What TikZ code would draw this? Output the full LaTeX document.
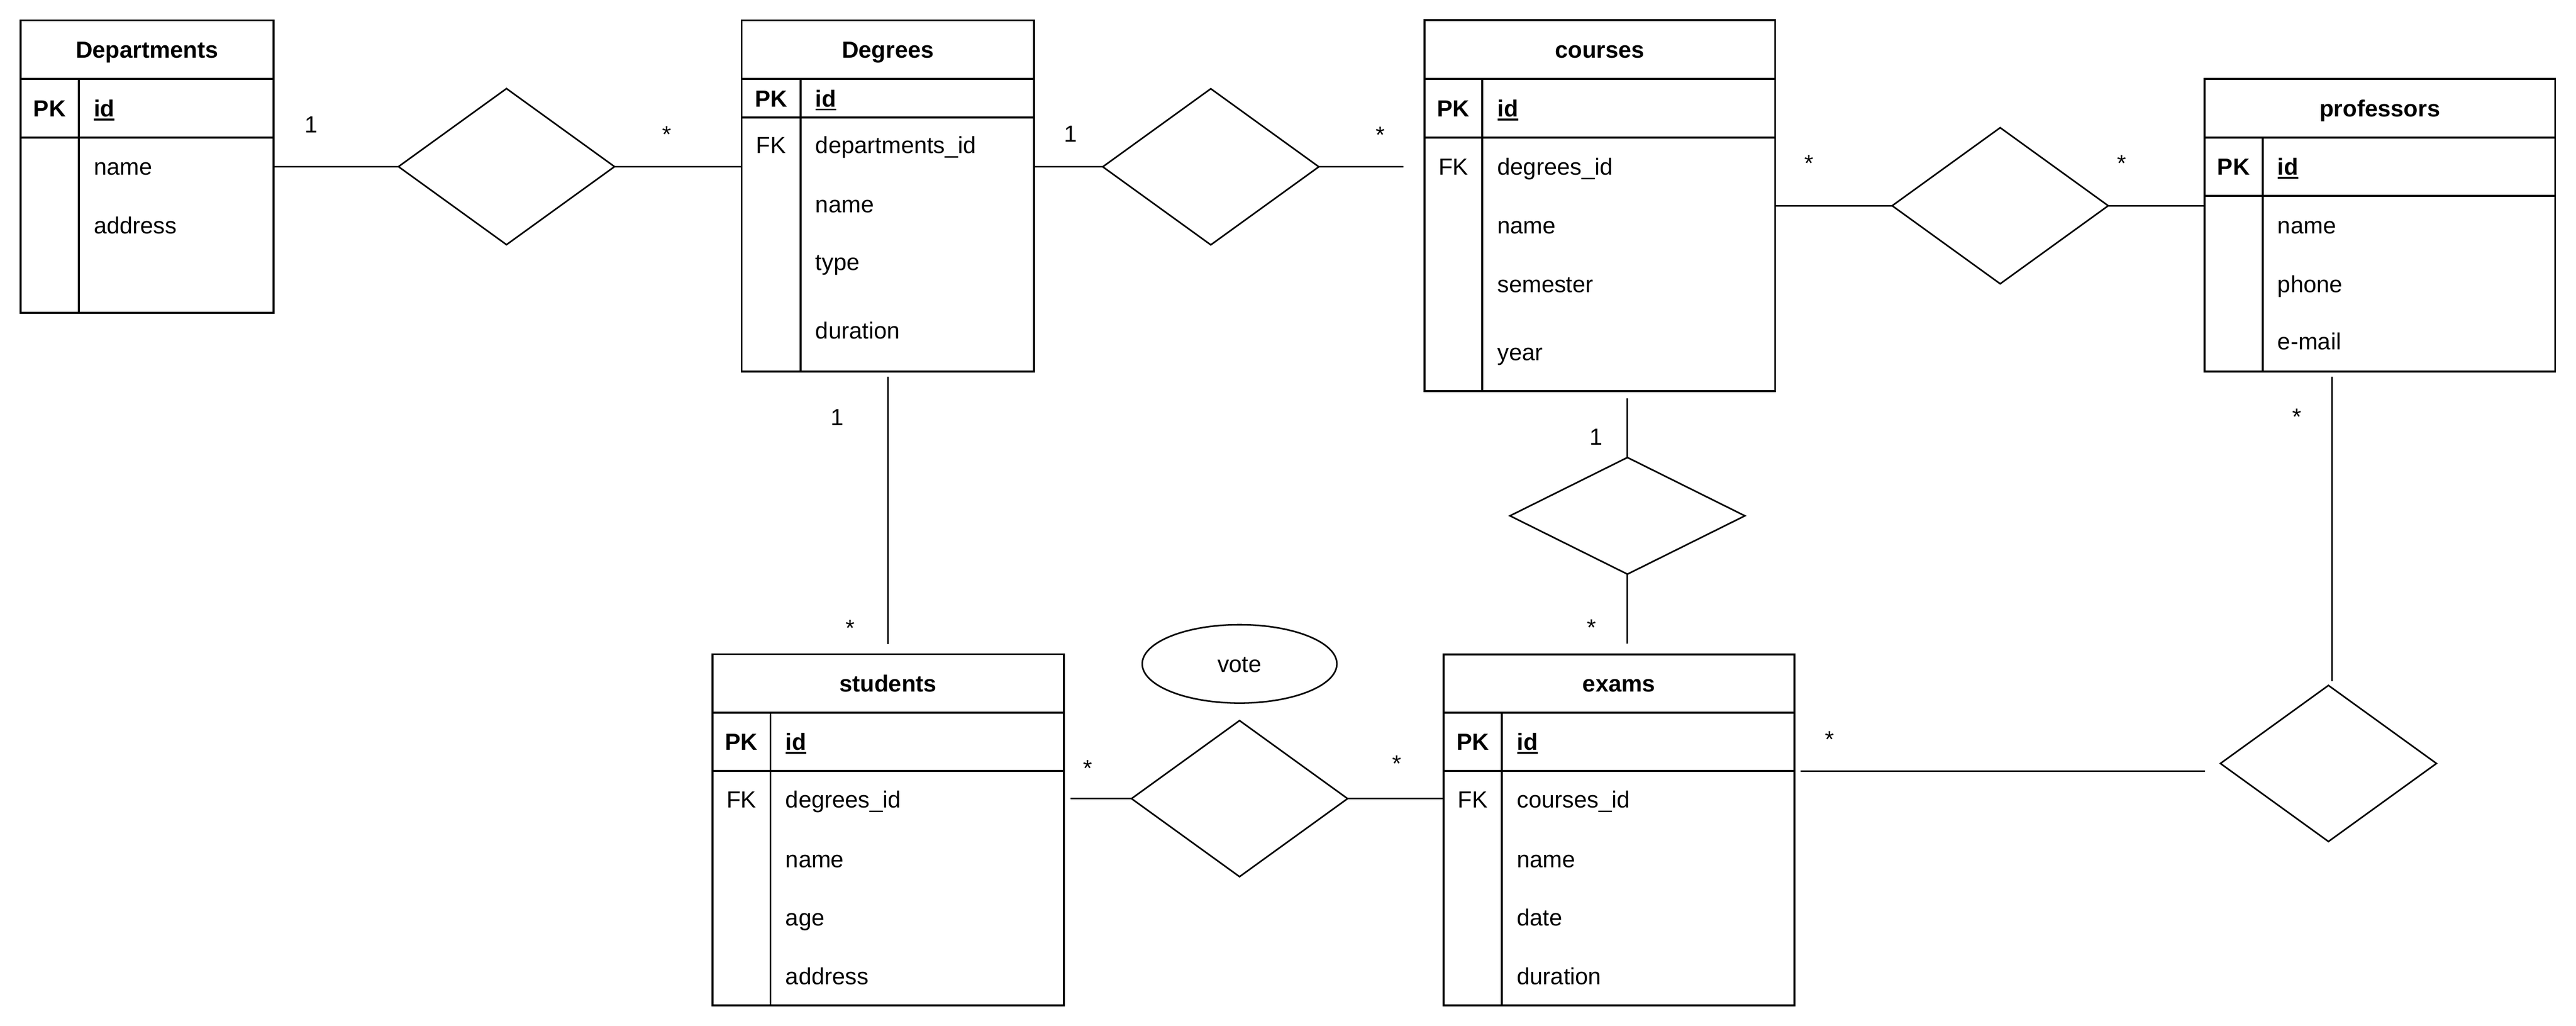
\documentclass[tikz,border=0pt]{standalone}
\usepackage{fontspec}
\setmainfont{Liberation Sans}
\usetikzlibrary{shapes.geometric}
\newcommand\ulword[1]{\setbox0\hbox{#1}\rlap{\rule[-2.3pt]{\wd0}{1.2pt}}\box0}
\begin{document}
\begin{tikzpicture}[x=1pt,y=-1pt,
  tbl/.style={draw, line width=1.2pt, inner sep=0pt, outer sep=0pt},
  sepline/.style={line width=1.2pt},
  txt/.style={inner sep=0pt, outer sep=0pt, text height=10.17pt, text depth=0pt, font=\fontsize{14.2}{17}\selectfont},
  hd/.style={txt, font=\fontsize{14.2}{17}\selectfont\bfseries},
  attr/.style={txt, anchor=west},
  rel/.style={draw, diamond, line width=0.95pt, inner sep=0pt, outer sep=0pt, minimum width=131.5pt, minimum height=95pt},
  conn/.style={line width=1pt},
  lbl/.style={inner sep=0pt, outer sep=0pt, anchor=base, font=\fontsize{14.2}{17}\selectfont}]
\useasboundingbox (0,0) rectangle (1568,624.35);

% ---------- Departments ----------
\node[tbl, minimum width=154pt, minimum height=177.9pt] (dep) at (89.5,101.35) {};
\draw[sepline] (12.5,48.1) -- (166.5,48.1);
\draw[sepline] (12.5,83.6) -- (166.5,83.6);
\draw[sepline] (47.9,48.1) -- (47.9,190.3);
\node[hd] (dep-t) at (89.5,30.25) {Departments};
\node[hd] (dep-pk) at (30.2,65.85) {PK};
\node[hd, anchor=west] (dep-id) at (57.1,65.85) {\ulword{id}};
\node[attr] (dep-a1) at (57.1,101.4) {name};
\node[attr] (dep-a2) at (57.1,137) {address};

% ---------- Degrees ----------
\node[tbl, minimum width=178.1pt, minimum height=213.6pt] (deg) at (540.45,119.2) {};
\draw[sepline] (451.4,48.1) -- (629.5,48.1);
\draw[sepline] (451.4,71.6) -- (629.5,71.6);
\draw[sepline] (487.2,48.1) -- (487.2,226);
\node[hd] (deg-t) at (540.45,30.25) {Degrees};
\node[hd] (deg-pk) at (469.3,59.85) {PK};
\node[hd, anchor=west] (deg-id) at (496.4,59.85) {\ulword{id}};
\node[txt] (deg-fk) at (469.3,88.3) {FK};
\node[attr] (deg-a1) at (496.4,88.3) {departments\_id};
\node[attr] (deg-a2) at (496.4,124.4) {name};
\node[attr] (deg-a3) at (496.4,159.5) {type};
\node[attr] (deg-a4) at (496.4,201.1) {duration};

% ---------- courses ----------
\node[tbl, minimum width=213.4pt, minimum height=225.7pt] (cou) at (973.8,125.15) {};
\draw[sepline] (867.1,48) -- (1080.5,48);
\draw[sepline] (867.1,83.8) -- (1080.5,83.8);
\draw[sepline] (902.3,48) -- (902.3,238);
\node[hd] (cou-t) at (973.8,30.15) {courses};
\node[hd] (cou-pk) at (884.7,65.9) {PK};
\node[hd, anchor=west] (cou-id) at (911.5,65.9) {\ulword{id}};
\node[txt] (cou-fk) at (884.7,101.4) {FK};
\node[attr] (cou-a1) at (911.5,101.4) {degrees\_id};
\node[attr] (cou-a2) at (911.5,137.1) {name};
\node[attr] (cou-a3) at (911.5,172.9) {semester};
\node[attr] (cou-a4) at (911.5,214.3) {year};

% ---------- professors ----------
\node[tbl, minimum width=213.4pt, minimum height=178.2pt] (prof) at (1448.6,137.1) {};
\draw[sepline] (1341.9,83.8) -- (1555.3,83.8);
\draw[sepline] (1341.9,119.2) -- (1555.3,119.2);
\draw[sepline] (1377.2,83.8) -- (1377.2,226.2);
\node[hd] (prof-t) at (1448.6,65.9) {professors};
\node[hd] (prof-pk) at (1359.55,101.5) {PK};
\node[hd, anchor=west] (prof-id) at (1386.4,101.5) {\ulword{id}};
\node[attr] (prof-a1) at (1386.4,137) {name};
\node[attr] (prof-a2) at (1386.4,172.9) {phone};
\node[attr] (prof-a3) at (1386.4,207.8) {e-mail};

% ---------- students ----------
\node[tbl, minimum width=213.9pt, minimum height=213.6pt] (stu) at (540.55,504.9) {};
\draw[sepline] (433.6,433.6) -- (647.5,433.6);
\draw[sepline] (433.6,469.2) -- (647.5,469.2);
\draw[sepline] (469,433.6) -- (469,611.7);
\node[hd] (stu-t) at (540.55,415.85) {students};
\node[hd] (stu-pk) at (451.3,451.4) {PK};
\node[hd, anchor=west] (stu-id) at (478.2,451.4) {\ulword{id}};
\node[txt] (stu-fk) at (451.3,486.5) {FK};
\node[attr] (stu-a1) at (478.2,486.5) {degrees\_id};
\node[attr] (stu-a2) at (478.2,522.8) {name};
\node[attr] (stu-a3) at (478.2,558.4) {age};
\node[attr] (stu-a4) at (478.2,594) {address};

% ---------- exams ----------
\node[tbl, minimum width=213.5pt, minimum height=213.5pt] (exa) at (985.45,505.05) {};
\draw[sepline] (878.7,433.7) -- (1092.2,433.7);
\draw[sepline] (878.7,469.2) -- (1092.2,469.2);
\draw[sepline] (914.2,433.7) -- (914.2,611.8);
\node[hd] (exa-t) at (985.45,415.95) {exams};
\node[hd] (exa-pk) at (896.45,451.45) {PK};
\node[hd, anchor=west] (exa-id) at (923.4,451.45) {\ulword{id}};
\node[txt] (exa-fk) at (896.45,486.5) {FK};
\node[attr] (exa-a1) at (923.4,486.5) {courses\_id};
\node[attr] (exa-a2) at (923.4,522.8) {name};
\node[attr] (exa-a3) at (923.4,558.4) {date};
\node[attr] (exa-a4) at (923.4,594) {duration};

% ---------- relationships ----------
\node[rel] (d1) at (308.3,101.4) {};
\node[rel] (d2) at (737,101.5) {};
\node[rel] (d3) at (1217.5,125.2) {};
\node[rel, minimum width=143pt, minimum height=71pt] (d4) at (990.6,313.9) {};
\node[rel] (d5) at (754.5,486) {};
\node[rel] (d6) at (1417.3,464.6) {};
\node[draw, ellipse, line width=0.95pt, minimum width=118.5pt, minimum height=47.7pt,
      inner sep=0pt, outer sep=0pt, text height=10.17pt, text depth=0pt,
      font=\fontsize{14.2}{17}\selectfont] (vote) at (754.5,404) {vote};

% ---------- connectors ----------
\draw[conn] (dep.east |- d1.west) -- (d1.west);
\draw[conn] (d1.east) -- (deg.west |- d1.east);
\draw[conn] (deg.east |- d2.west) -- (d2.west);
\draw[conn, shorten >=12.8pt] (d2.east) -- (cou.west |- d2.east);
\draw[conn] (cou.east |- d3.west) -- (d3.west);
\draw[conn] (d3.east) -- (prof.west |- d3.east);
\draw[conn, shorten <=3.3pt, shorten >=6.2pt] (deg.south) -- (deg.south |- stu.north);
\draw[conn, shorten <=4.5pt] (d4.north |- cou.south) -- (d4.north);
\draw[conn, shorten >=6.5pt] (d4.south) -- (d4.south |- exa.north);
\coordinate (profdrop) at (1419.4,226.2);
\draw[conn, shorten <=3pt, shorten >=2.5pt] (profdrop) -- (profdrop |- d6.north);
\coordinate (exasep) at (1092.2,469.2);
\draw[conn, shorten <=3.8pt, shorten >=9.5pt] (exasep) -- (d6.west |- exasep);
\draw[conn, shorten <=4.1pt] (stu.east |- d5.west) -- (d5.west);
\draw[conn] (d5.east) -- (exa.west |- d5.east);

% ---------- cardinalities ----------
\node[lbl] (c1) at (189.4,80.8) {1};
\node[lbl] (c2) at (406,86.8) {*};
\node[lbl] (c3) at (651.8,86.4) {1};
\node[lbl] (c4) at (840.3,87) {*};
\node[lbl] (c5) at (1101.2,104.3) {*};
\node[lbl] (c6) at (1291.6,104.3) {*};
\node[lbl] (c7) at (509.6,258.8) {1};
\node[lbl] (c8) at (517.6,387.1) {*};
\node[lbl] (c9) at (971.7,270.7) {1};
\node[lbl] (c10) at (968.7,386.8) {*};
\node[lbl] (c11) at (1398.2,258.5) {*};
\node[lbl] (c12) at (662,472.4) {*};
\node[lbl] (c13) at (850.1,469.5) {*};
\node[lbl] (c14) at (1113.6,455) {*};
\end{tikzpicture}
\end{document}
